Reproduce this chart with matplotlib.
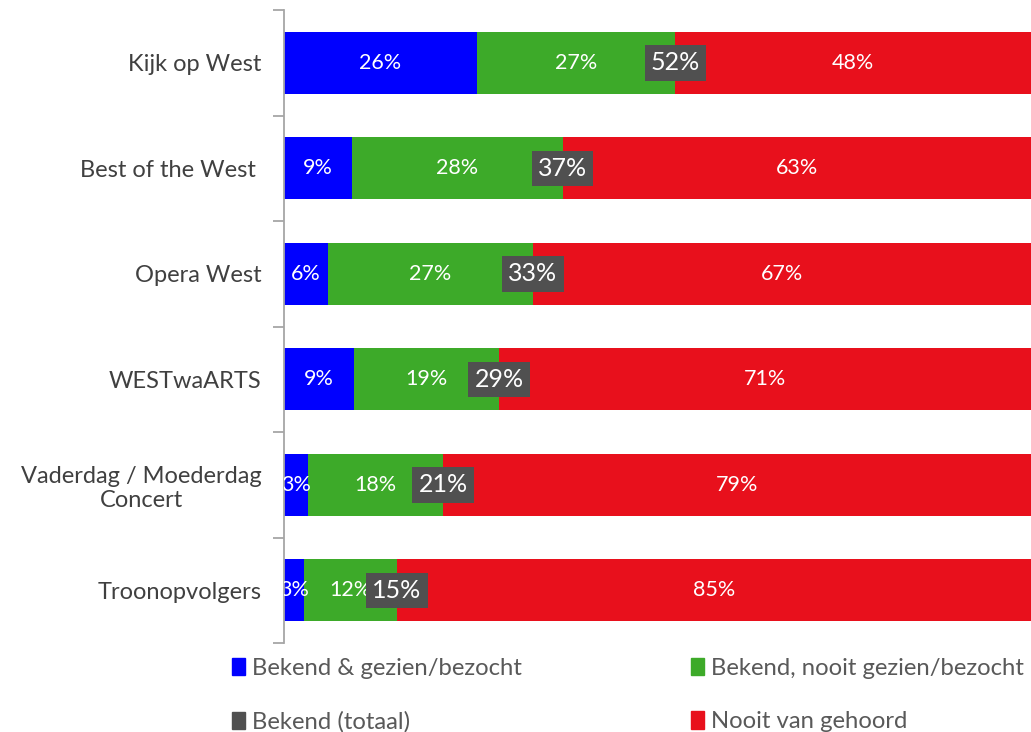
import matplotlib.pyplot as plt
import numpy as np
from matplotlib.patches import Patch

plt.rcParams['font.family'] = ['Lato', 'DejaVu Sans']

categories = ["Kijk op West", "Best of the West ", "Opera West", "WESTwaARTS",
              "Vaderdag / Moederdag\nConcert", "Troonopvolgers"]
gezien = [25.8, 9.1, 5.9, 9.4, 3.2, 2.7]
nooit_gezien = [26.6, 28.2, 27.4, 19.4, 18.1, 12.4]
nooit_gehoord = [47.6, 62.7, 66.7, 71.2, 78.7, 84.9]

blue = "#0000FF"
green = "#3DAA29"
red = "#E8101C"
dark = "#505050"

fig = plt.figure(figsize=(10.31, 7.32), dpi=100)
ax = fig.add_axes([284 / 1031, 1 - 643 / 732, 1 - 284 / 1031, (643 - 10) / 732])

y = np.arange(len(categories))
gezien = np.array(gezien)
nooit_gezien = np.array(nooit_gezien)
nooit_gehoord = np.array(nooit_gehoord)
totaal = gezien + nooit_gezien

h = 0.59
ax.barh(y, gezien, height=h, color=blue)
ax.barh(y, nooit_gezien, left=gezien, height=h, color=green)
ax.barh(y, nooit_gehoord, left=totaal, height=h, color=red)

for i in range(len(categories)):
    ax.text(gezien[i] / 2, y[i], f"{round(gezien[i])}%", ha="center", va="center",
            color="white", fontsize=15.5, clip_on=True)
    ax.text(gezien[i] + nooit_gezien[i] / 2, y[i], f"{round(nooit_gezien[i])}%",
            ha="center", va="center", color="white", fontsize=15.5)
    ax.text(totaal[i] + nooit_gehoord[i] / 2, y[i], f"{round(nooit_gehoord[i])}%",
            ha="center", va="center", color="white", fontsize=15.5)
    ax.text(totaal[i], y[i], f"{round(totaal[i])}%", ha="center", va="center",
            color="white", fontsize=18,
            bbox=dict(boxstyle="square,pad=0.25", fc=dark, ec="none"))

ax.set_xlim(0, 100)
ax.set_ylim(len(categories) - 0.5, -0.5)
ax.set_yticks(y)
ax.set_yticklabels(categories, fontsize=17, color="#404040")
for lab in ax.get_yticklabels():
    lab.set_multialignment("center")
ax.tick_params(axis="y", which="major", length=0, pad=16)
ax.set_yticks(np.arange(-0.5, len(categories)), minor=True)
ax.tick_params(axis="y", which="minor", length=8, color="#A6A6A6", width=1.3)
ax.set_xticks([])
for s in ["top", "right", "bottom"]:
    ax.spines[s].set_visible(False)
ax.spines["left"].set_color("#A6A6A6")
ax.spines["left"].set_linewidth(1.3)

handles = [Patch(color=blue), Patch(color=dark), Patch(color=green), Patch(color=red)]
labels = ["Bekend & gezien/bezocht", "Bekend (totaal)",
          "Bekend, nooit gezien/bezocht", "Nooit van gehoord"]
fig.legend(handles, labels, ncol=2, loc="upper left", bbox_to_anchor=(232 / 1031, 1 - 658 / 732),
           frameon=False, fontsize=17.2, labelcolor="#595959", handlelength=0.55,
           handleheight=0.75, handletextpad=0.3, columnspacing=7.05, labelspacing=1.35,
           borderpad=0, borderaxespad=0)

fig.savefig("out.png", dpi=100)
